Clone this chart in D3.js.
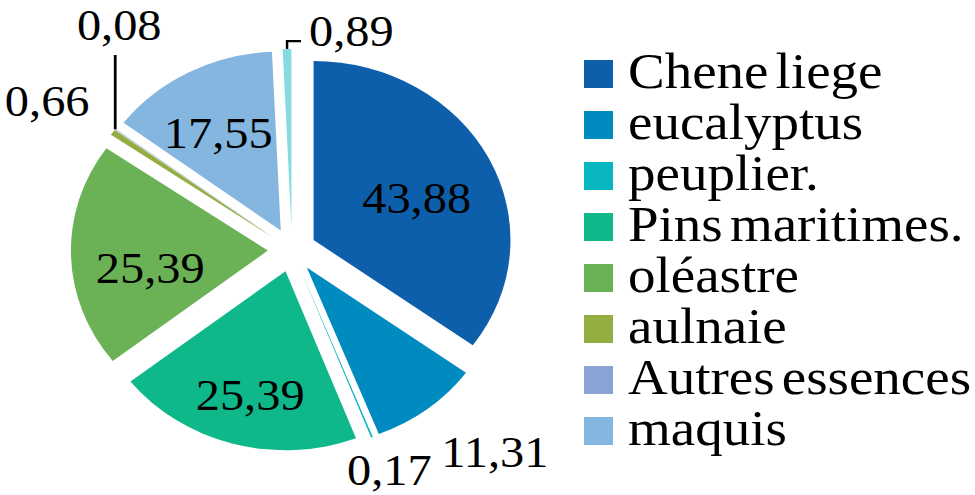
<!DOCTYPE html>
<html>
<head>
<meta charset="utf-8">
<style>
  body { margin: 0; background: #fff; }
  text { font-family: "Liberation Serif", serif; fill: #000; }
</style>
</head>
<body>
<svg id="chart" width="975" height="495"></svg>
<script src="https://d3js.org/d3.v7.min.js"></script>
<script>
// data (last slice has no legend entry)
const categories = ["Chene liege", "eucalyptus", "peuplier.", "Pins maritimes.", "oléastre", "aulnaie", "Autres essences", "maquis", ""];
const values = [43.88, 11.31, 0.17, 25.39, 25.39, 0.66, 0.08, 17.55, 0.89];
const colors = ["#0e5fab", "#008bc0", "#07b6c0", "#0fb88a", "#6bb156", "#93ad40", "#8aa3d5", "#84b6e0", "#84dbe1"];

// the whole picture is a bit wider than tall
const stretch = 1.1;
const radius = 179, explode = 22;
const cx = 292 / stretch, cy = 250;

// label placement: radius from centre, small angle nudge (deg); "leader" = pulled out with a line
const labelPlace = [
  {r: 125, da: 2}, {r: 273, da: -4.8}, {r: 237, da: -0.7}, {r: 150, da: -0.8},
  {r: 130, da: -6}, {r: 268, da: -2}, {leader: "up"}, {r: 135, da: -2}, {leader: "right"}
];

const fmt = d3.formatLocale({decimal: ",", thousands: " ", grouping: [3], currency: ["", ""]}).format(".2f");

const svg = d3.select("#chart");
const root = svg.append("g").attr("transform", `scale(${stretch},1)`);

const pie = d3.pie().sort(null).value(i => values[i]);
const arcs = pie(d3.range(values.length));
const arc = d3.arc().innerRadius(0).outerRadius(radius);

const g = root.append("g").attr("transform", `translate(${cx},${cy})`);

const mid = d => (d.startAngle + d.endAngle) / 2;
const polar = (a, r) => [r * Math.sin(a), -r * Math.cos(a)];

g.selectAll("path.slice")
  .data(arcs)
  .join("path")
  .attr("class", "slice")
  .attr("fill", d => colors[d.data])
  .attr("transform", d => `translate(${polar(mid(d), explode)})`)
  .attr("d", arc);

// value labels
arcs.forEach(d => {
  const p = labelPlace[d.data];
  const txt = fmt(values[d.data]);
  if (p.leader) {
    const o = polar(mid(d), radius + explode);
    if (p.leader === "up") {
      const topY = 55 - cy;
      g.append("line")
        .attr("x1", o[0]).attr("y1", o[1]).attr("x2", o[0]).attr("y2", topY)
        .attr("stroke", "#000").attr("stroke-width", 2.5);
      g.append("text")
        .attr("x", o[0] + 4 / stretch).attr("y", 40 - cy)
        .attr("text-anchor", "middle").attr("font-size", 44)
        .text(txt);
    } else {
      const ly = o[1] - 8;
      g.append("path")
        .attr("d", `M${o[0]},${o[1]}V${ly}H${o[0] + 14 / stretch}`)
        .attr("fill", "none").attr("stroke", "#000").attr("stroke-width", 2.2);
      g.append("text")
        .attr("x", o[0] + 22 / stretch).attr("y", 46 - cy)
        .attr("text-anchor", "start").attr("font-size", 44)
        .text(txt);
    }
  } else {
    const pos = polar(mid(d) + p.da * Math.PI / 180, p.r);
    g.append("text")
      .attr("x", pos[0]).attr("y", pos[1])
      .attr("dy", "0.35em")
      .attr("text-anchor", "middle").attr("font-size", 44)
      .text(txt);
  }
});

// legend
const legendIdx = d3.range(categories.length).filter(i => categories[i] !== "");
const ly = d3.scalePoint().domain(legendIdx).range([60, 417]);
const legend = root.append("g").attr("transform", `translate(${584 / stretch},0)`);

const rows = legend.selectAll("g.row")
  .data(legendIdx)
  .join("g")
  .attr("class", "row")
  .attr("transform", i => `translate(0,${ly(i)})`);

rows.append("rect")
  .attr("width", 29 / stretch).attr("height", 28)
  .attr("fill", i => colors[i]);

rows.append("text")
  .attr("x", 44 / stretch).attr("y", 28)
  .attr("font-size", 50)
  .attr("word-spacing", -6)
  .text(i => categories[i]);
</script>
</body>
</html>
